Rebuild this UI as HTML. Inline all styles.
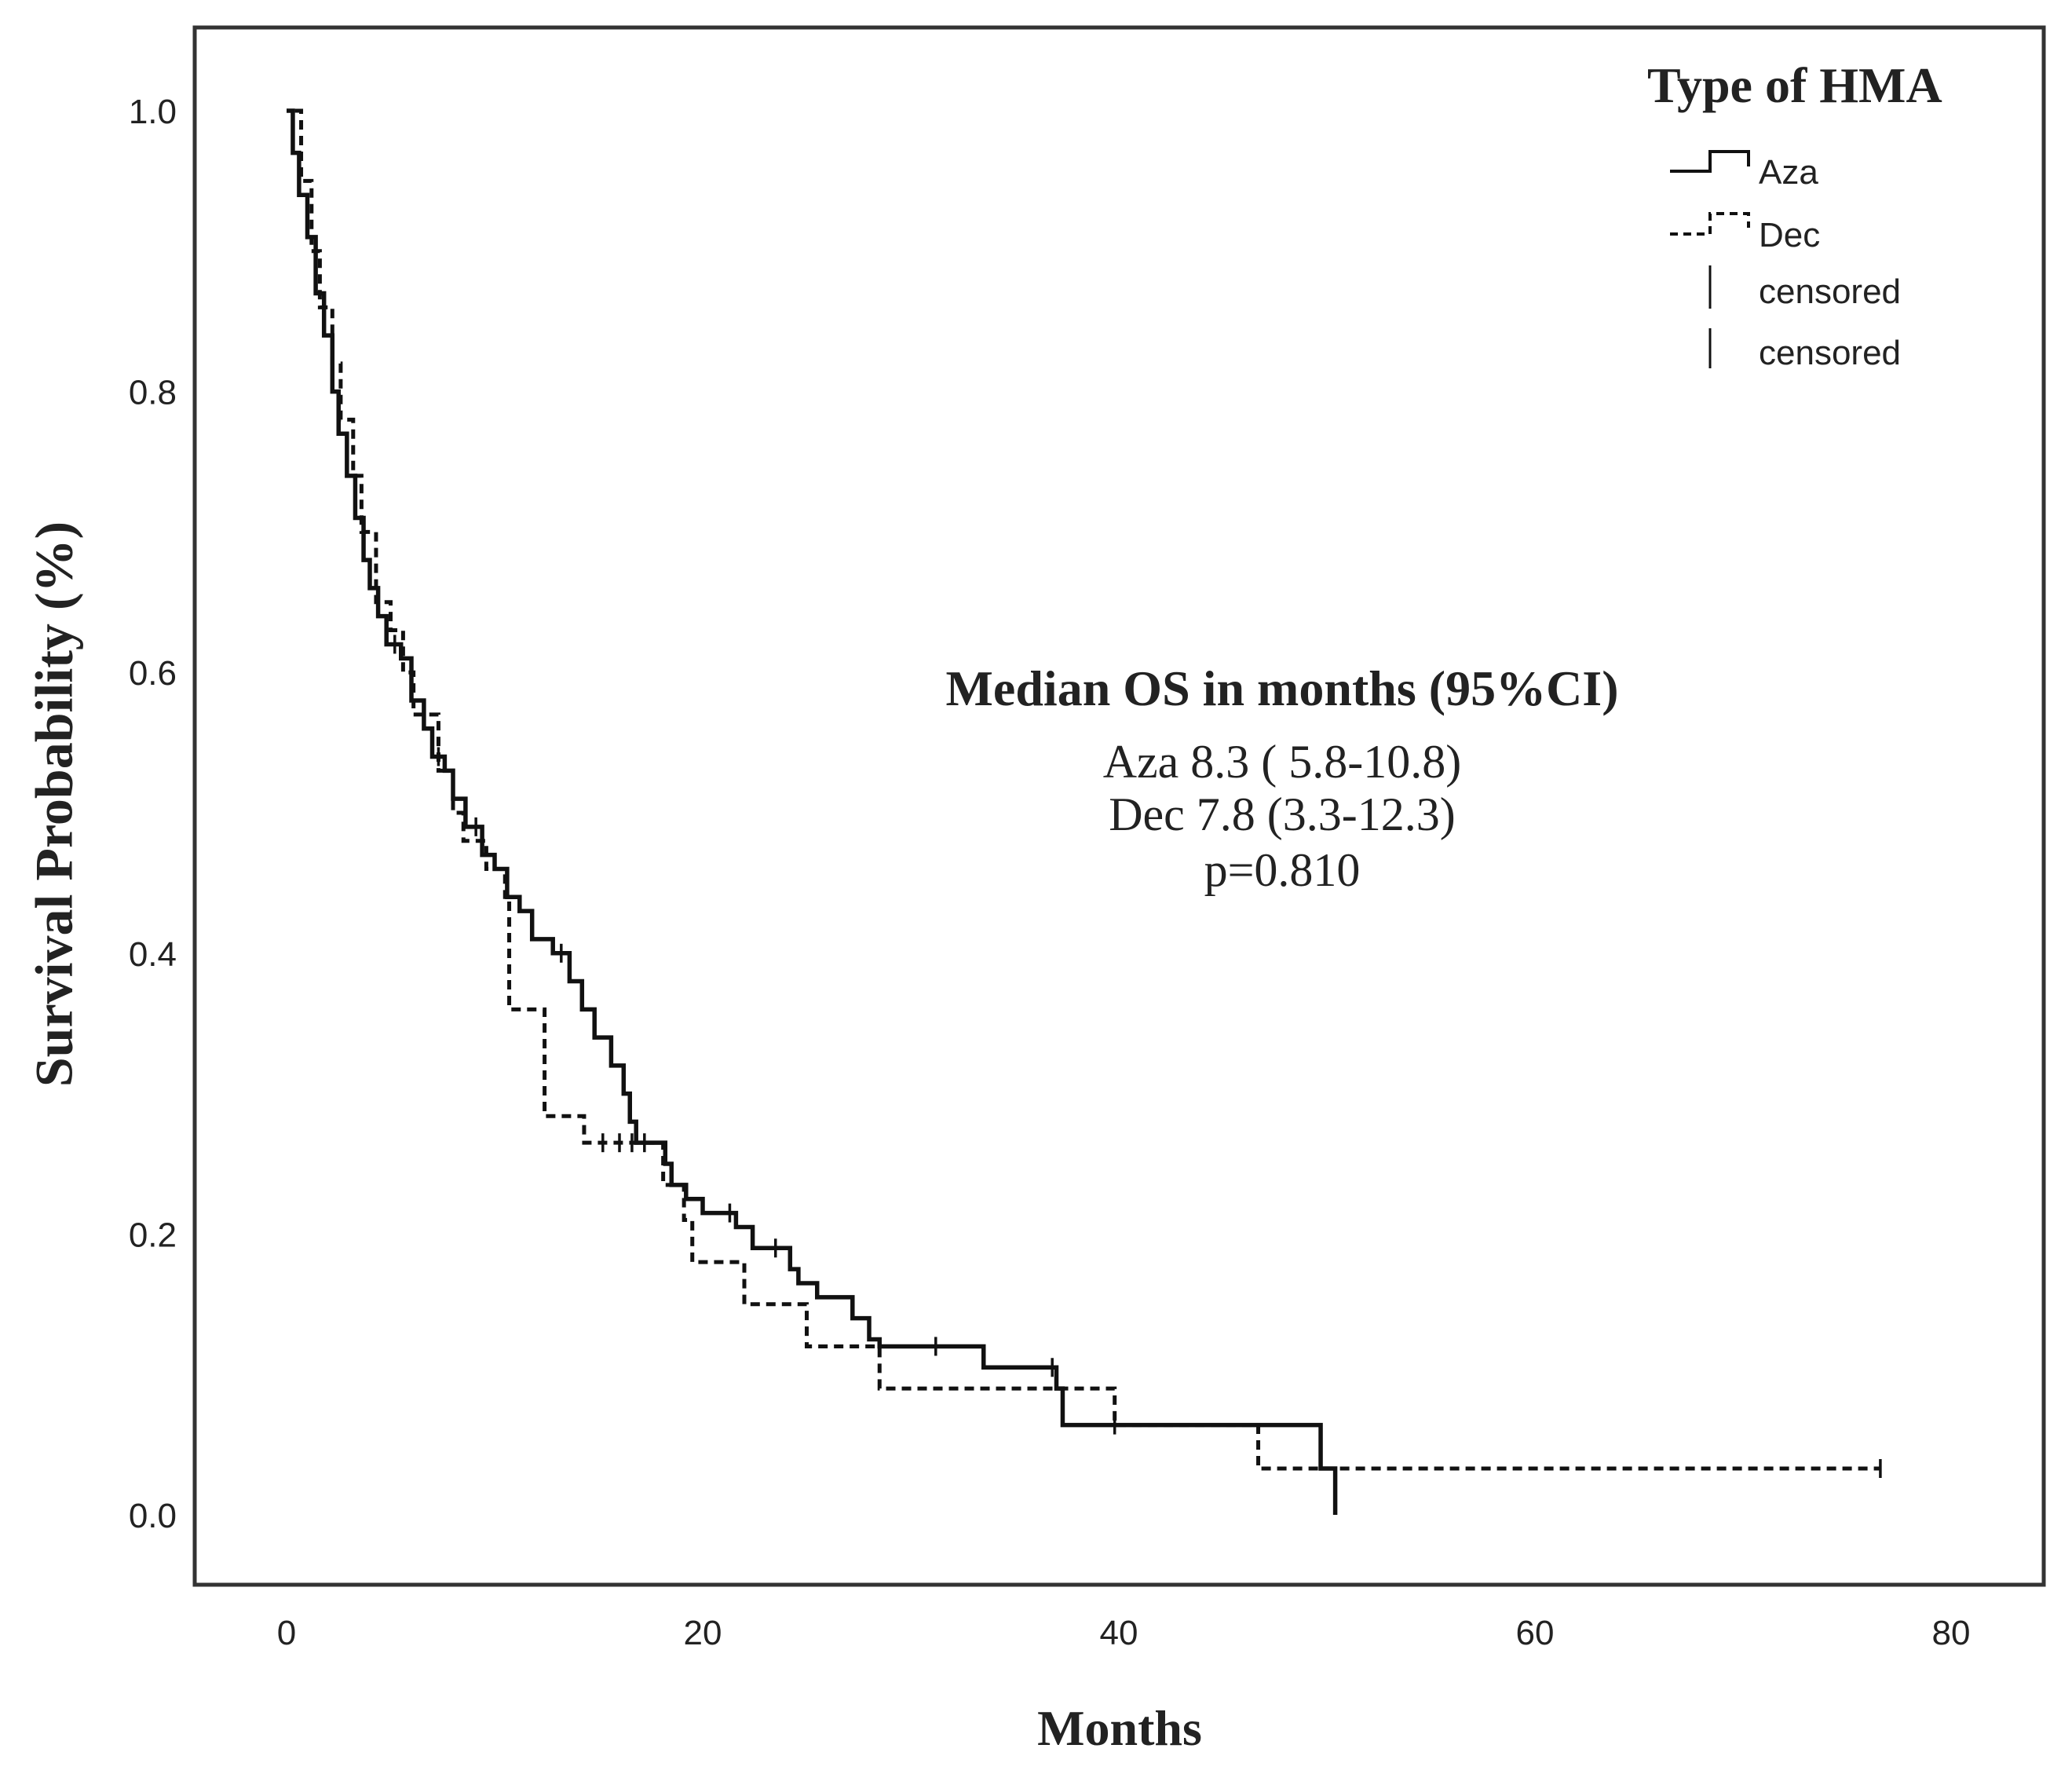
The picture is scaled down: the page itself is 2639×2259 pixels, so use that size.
<!DOCTYPE html>
<html><head><meta charset="utf-8"><style>
html,body{margin:0;padding:0;background:#fff;}
svg{display:block;}
.tick{font-family:"Liberation Sans",sans-serif;font-size:44px;fill:#222;}
.serif{font-family:"Liberation Serif",serif;fill:#222;}
</style></head><body>
<svg id="chart" width="2639" height="2259" viewBox="0 0 2639 2259">
<rect x="0" y="0" width="2639" height="2259" fill="#fff"/>
<rect x="248" y="35" width="2355" height="1983" fill="none" stroke="#333" stroke-width="5"/>
<g id="yticks"></g>
<g id="xticks"></g>
<g id="series"></g>
<text x="76" y="1024" transform="rotate(-90 76 1024)" text-anchor="middle" dominant-baseline="middle" class="serif" font-size="68" font-weight="bold">Survival Probability (%)</text>
<text x="1426" y="2222" text-anchor="middle" class="serif" font-size="64" font-weight="bold">Months</text>
<g>
<text x="2098" y="130" class="serif" font-size="64" font-weight="bold">Type of HMA</text>
<path d="M2127 218 H2178 V193 H2227 V212" fill="none" stroke="#111" stroke-width="4"/>
<text x="2240" y="234" class="tick" font-size="56">Aza</text>
<path d="M2127 298 H2178 V272 H2227 V290" fill="none" stroke="#111" stroke-width="4" stroke-dasharray="10 7"/>
<text x="2240" y="314" class="tick" font-size="56">Dec</text>
<line x1="2178" y1="338" x2="2178" y2="393" stroke="#111" stroke-width="3"/>
<text x="2240" y="386" class="tick" font-size="56">censored</text>
<line x1="2178" y1="418" x2="2178" y2="469" stroke="#111" stroke-width="3"/>
<text x="2240" y="464" class="tick" font-size="56">censored</text>
</g>
<g>
<text x="1633" y="898" text-anchor="middle" class="serif" font-size="64" font-weight="bold">Median OS in months (95%CI)</text>
<text x="1633" y="990" text-anchor="middle" class="serif" font-size="60">Aza 8.3 ( 5.8-10.8)</text>
<text x="1633" y="1057" text-anchor="middle" class="serif" font-size="60">Dec 7.8 (3.3-12.3)</text>
<text x="1633" y="1128" text-anchor="middle" class="serif" font-size="60">p=0.810</text>
</g>
</svg>
<script>
const yTickValues=[0,0.2,0.4,0.6,0.8,1.0];
const yTickLabels=["0.0","0.2","0.4","0.6","0.8","1.0"];
const xTickValues=[0,20,40,60,80];
const xTickLabels=["0","20","40","60","80"];
const azaTimes=[0,0.3,0.6,1.0,1.4,1.8,2.2,2.5,2.9,3.3,3.7,4.0,4.4,4.8,5.5,6.0,6.6,7.0,7.6,8.0,8.6,9.4,10.0,10.6,11.2,11.8,12.8,13.6,14.2,14.8,15.6,16.2,16.5,16.8,18.2,18.5,19.2,20.0,21.6,22.4,24.2,24.6,25.5,27.2,28.0,28.5,33.5,37.0,37.3,49.7,50.4];
const azaSurv=[1.0,0.97,0.94,0.91,0.87,0.84,0.80,0.77,0.74,0.71,0.68,0.66,0.64,0.62,0.61,0.58,0.56,0.54,0.53,0.51,0.49,0.47,0.46,0.44,0.43,0.41,0.40,0.38,0.36,0.34,0.32,0.30,0.28,0.265,0.25,0.235,0.225,0.215,0.205,0.19,0.175,0.165,0.155,0.14,0.125,0.12,0.105,0.09,0.064,0.033,0.0];
const azaCensorT=[5.2,7.3,9.1,13.2,17.2,21.3,23.5,31.2,36.8];
const decTimes=[0.4,0.7,1.2,1.6,2.2,2.6,3.2,3.6,4.3,5.0,5.6,6.1,7.3,8.0,8.5,9.6,10.5,10.7,12.4,14.3,18.1,19.1,19.5,22.0,25.0,28.5,39.8,46.7];
const decSurv=[1.0,0.95,0.90,0.86,0.82,0.78,0.74,0.70,0.65,0.63,0.60,0.57,0.53,0.50,0.48,0.46,0.44,0.36,0.284,0.265,0.235,0.21,0.18,0.15,0.12,0.09,0.064,0.033];
const decEnd=76.6;
const decCensorT=[15.2,16.0,16.6,39.8,76.6];

const X0=365,XS=26.5,Y0=1929,Y1=141;
function sx(t){return X0+t*XS;}
function sy(v){return Y0-v*(Y0-Y1);}
const NS="http://www.w3.org/2000/svg";
function mk(tag,attrs,parent){const e=document.createElementNS(NS,tag);for(const k in attrs)e.setAttribute(k,attrs[k]);parent.appendChild(e);return e;}
const yg=document.getElementById('yticks'),xg=document.getElementById('xticks'),sg=document.getElementById('series');
yTickValues.forEach((v,i)=>{const t=mk('text',{x:225,y:sy(v)+16,'text-anchor':'end',class:'tick'},yg);


t.textContent=yTickLabels[i];});
xTickValues.forEach((v,i)=>{const t=mk('text',{x:sx(v),y:2094,'text-anchor':'middle',class:'tick'},xg);


t.textContent=xTickLabels[i];});
function stepPath(times,surv,end){let d='M'+sx(times[0])+' '+sy(surv[0]);
for(let i=1;i<times.length;i++){d+=' H'+sx(times[i])+' V'+sy(surv[i]);}
if(end!==undefined)d+=' H'+sx(end);return d;}
function survAt(times,surv,t){let s=surv[0];for(let i=0;i<times.length;i++){if(times[i]<=t)s=surv[i];}return s;}
const dp=mk('path',{d:stepPath(decTimes,decSurv,decEnd),fill:'none',stroke:'#111','stroke-width':5,'stroke-dasharray':'12 8'},sg);


const ap=mk('path',{d:stepPath(azaTimes,azaSurv),fill:'none',stroke:'#111','stroke-width':5.5},sg);


const last=azaTimes.length-1;
const al=mk('line',{x1:sx(azaTimes[last]),y1:sy(azaSurv[last-1]),x2:sx(azaTimes[last]),y2:sy(azaSurv[last]),stroke:'#111','stroke-width':3.5},sg);


azaCensorT.forEach(t=>{const y=sy(survAt(azaTimes,azaSurv,t));const l=mk('line',{x1:sx(t),y1:y-12,x2:sx(t),y2:y+12,stroke:'#111','stroke-width':3.5},sg);

});
decCensorT.forEach(t=>{const y=sy(survAt(decTimes,decSurv,t));const l=mk('line',{x1:sx(t),y1:y-12,x2:sx(t),y2:y+12,stroke:'#111','stroke-width':3.5},sg);

});
</script>
</body></html>
